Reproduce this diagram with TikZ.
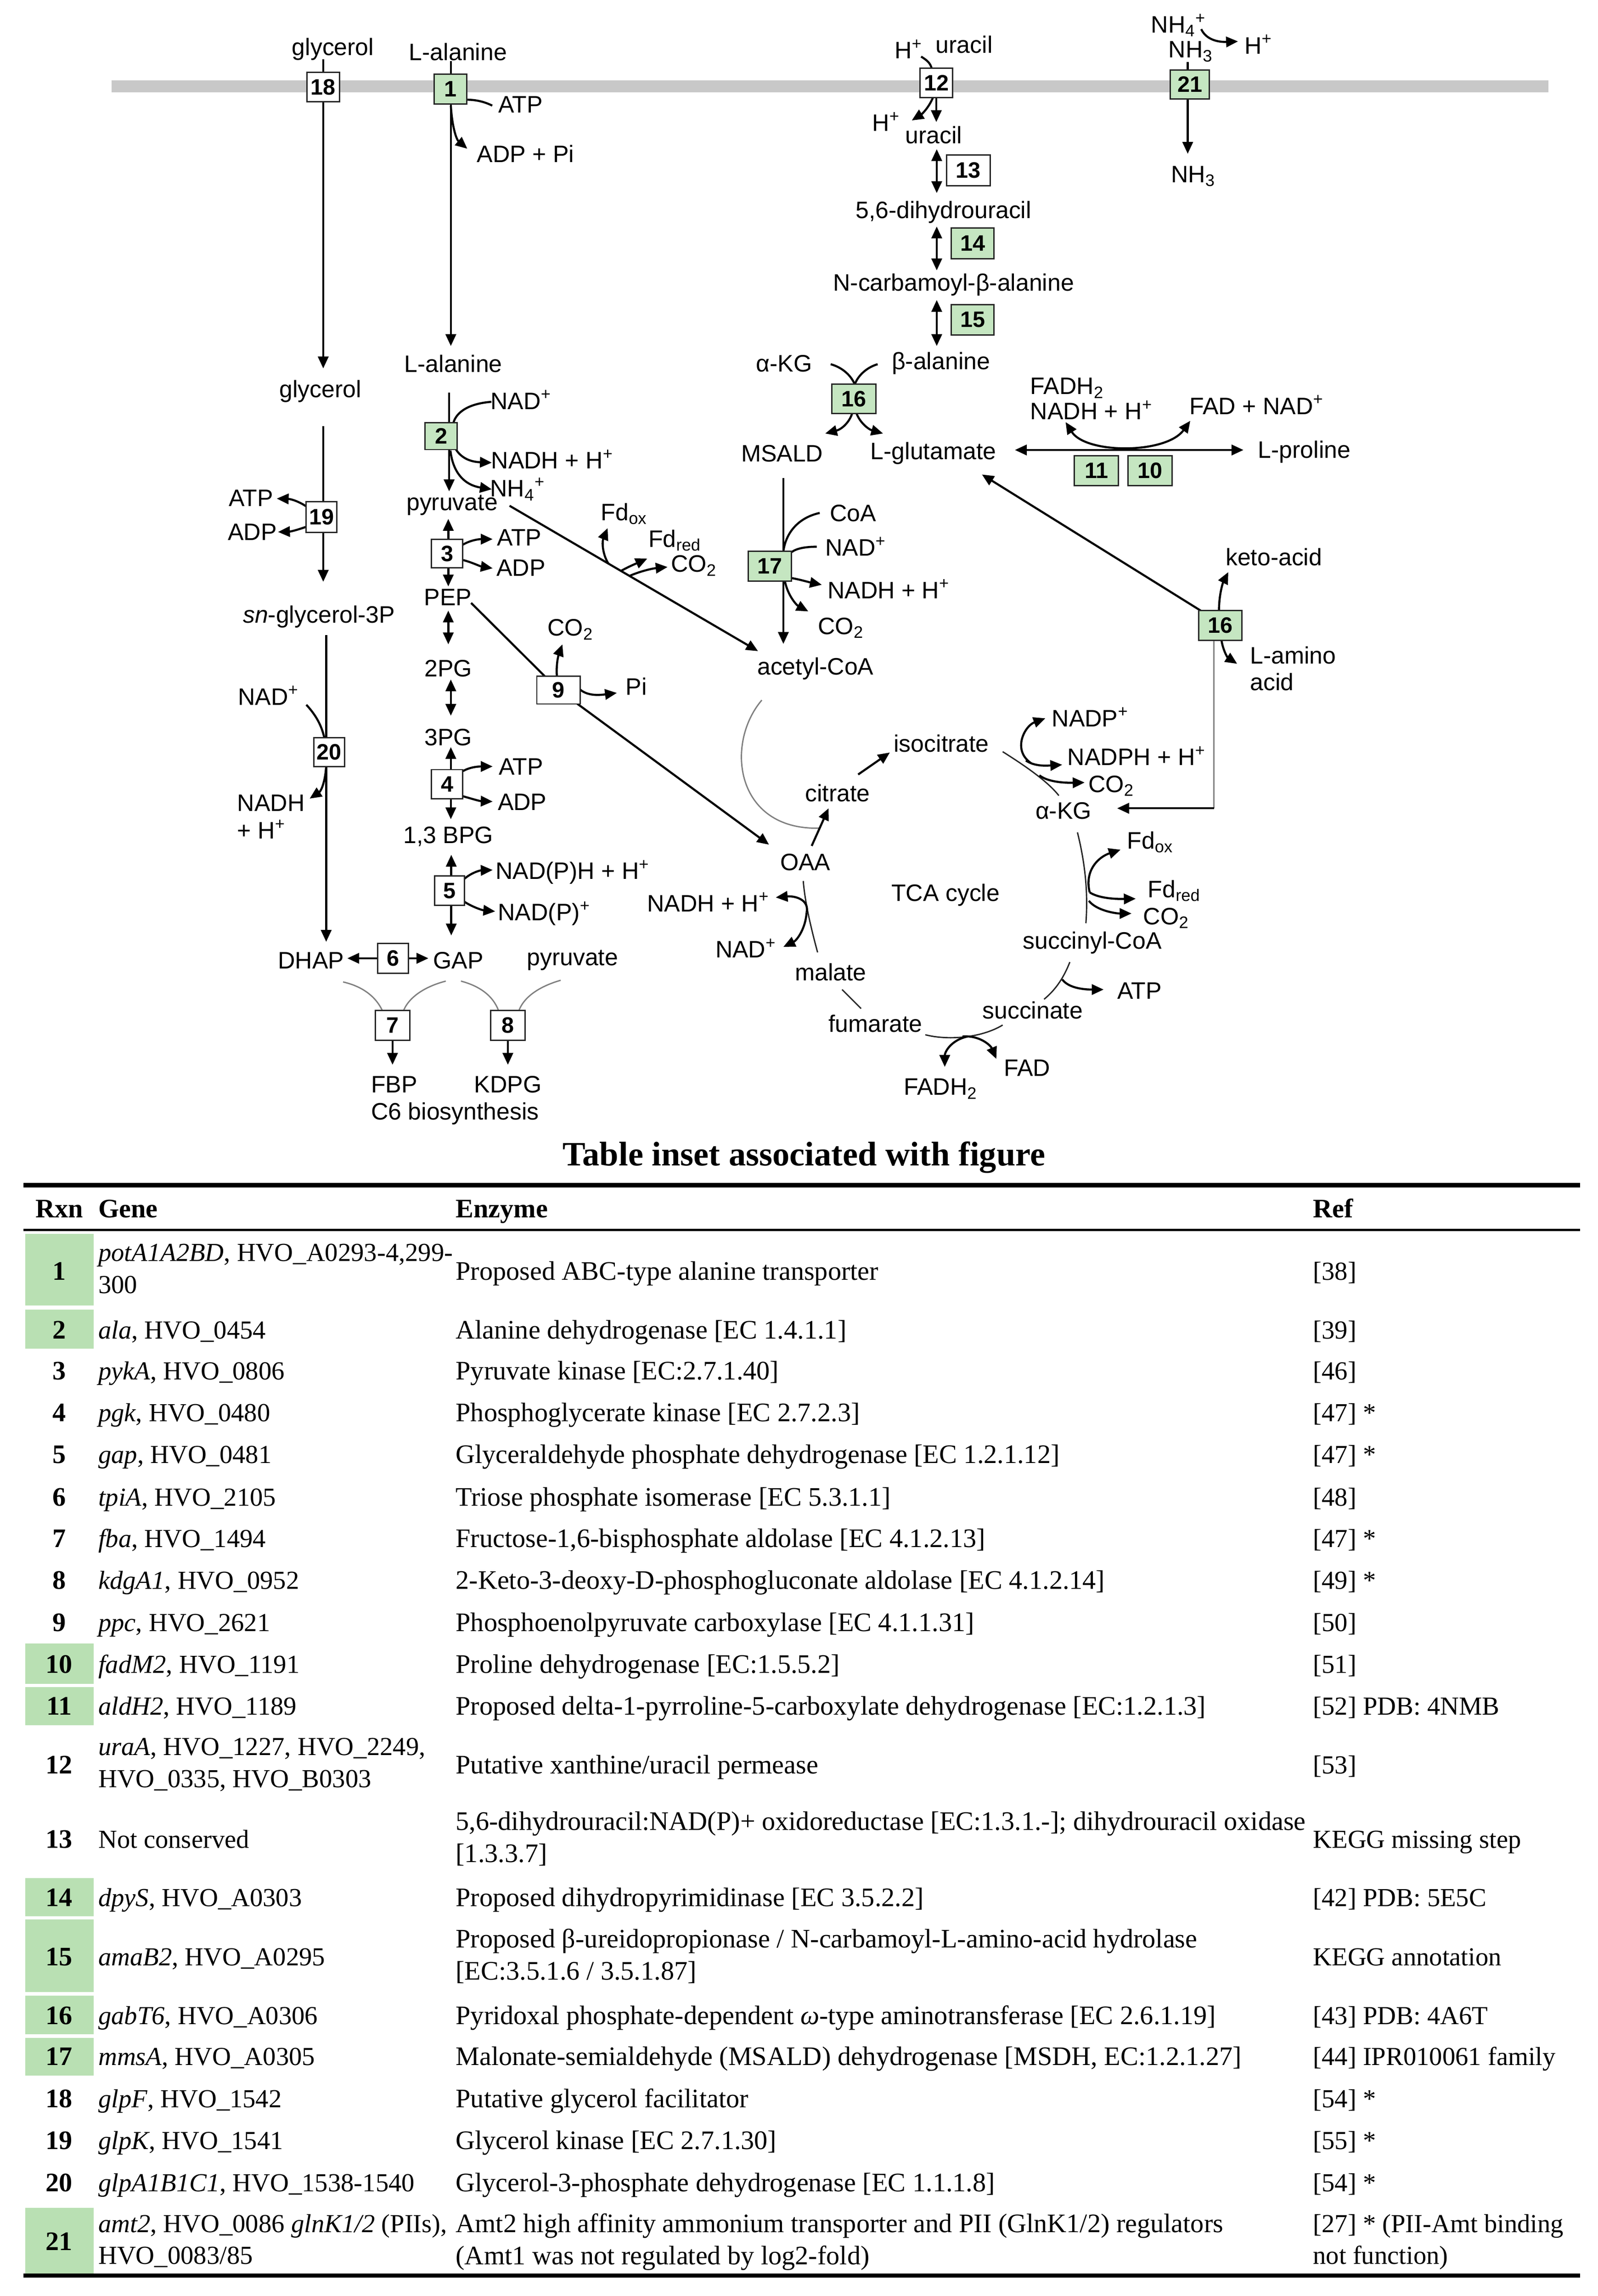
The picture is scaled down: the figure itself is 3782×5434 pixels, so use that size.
\documentclass[tikz,border=0pt]{standalone}
\usepackage{fontspec}
\setmainfont{Liberation Serif}
\newfontfamily\dsans{Liberation Sans}
\usetikzlibrary{arrows.meta,calc}
\definecolor{dgreen}{RGB}{197,230,193}
\definecolor{tgreen}{RGB}{185,224,179}
\definecolor{memb}{RGB}{200,200,200}
\newcommand{\sub}[1]{\textsubscript{#1}}
\newcommand{\sps}[1]{\textsuperscript{#1}}
\newcommand{\trow}[5]{%
  \node[tbn] (n#2) at (140,#1+6) {#2};
  \node[tb, font=\fontsize{17.5}{21.6}\selectfont] (g#2) at (232,#1+6) {#3};
  \node[tb] (e#2) at (1078,#1+6) {#4};
  \node[tb, font=\fontsize{17.5}{21.6}\selectfont] (r#2) at (3107,#1+6) {#5};}
\tikzset{
  lbl/.style={font=\dsans\fontsize{16}{19}\selectfont, inner sep=0pt},
  rxb/.style={draw=black!85, line width=0.9pt, fill=white, inner sep=0pt, font=\dsans\bfseries\fontsize{15}{15}\selectfont},
  rxg/.style={rxb, fill=dgreen},
  ln/.style={line width=1.4pt},
  ar/.style={ln, -{Triangle[length=8pt,width=7pt]}},
  arb/.style={ln, {Triangle[length=8pt,width=7pt]}-{Triangle[length=8pt,width=7pt]}},
  cyc/.style={line width=0.9pt, black!85},
  garc/.style={line width=0.9pt, gray},
  tb/.style={font=\fontsize{18}{21.6}\selectfont, inner sep=0pt, anchor=west, align=left,
    execute at begin node=\strut, execute at end node=\strut},
  tbn/.style={font=\bfseries\fontsize{18}{21.6}\selectfont, inner sep=0pt, execute at begin node=\strut},
  tbh/.style={font=\bfseries\fontsize{18}{21.6}\selectfont, inner sep=0pt, anchor=west, execute at begin node=\strut},
}
\begin{document}
\begin{tikzpicture}[x=0.01cm, y=-0.01cm]
\useasboundingbox (0,0) rectangle (3782,5434);
% membrane
\fill[memb] (264,190) rectangle (3665,218);

% ---------- labels ----------
\node[lbl] (glyT) at (788,116) {glycerol};
\node[lbl] (alaT) at (1084,123) {L-alanine};
\node[lbl] (atp1) at (1232,248) {ATP};
\node[lbl] (adp1) at (1244,364) {ADP + Pi};
\node[lbl] (ala2) at (1073,861) {L-alanine};
\node[lbl] (gly2) at (758,926) {glycerol};
\node[lbl] (nad2) at (1233,946) {NAD\sps{+}};
\node[lbl] (nadh2) at (1307,1087) {NADH + H\sps{+}};
\node[lbl] (nh4) at (1225,1158) {NH\sub{4}\sps{+}};
\node[lbl] (pyr) at (1070,1196) {pyruvate};
\node[lbl] (atp19) at (594,1179) {ATP};
\node[lbl] (adp19) at (597,1259) {ADP};
\node[lbl] (atp3) at (1229,1272) {ATP};
\node[lbl] (adp3) at (1233,1344) {ADP};
\node[lbl] (fdox1) at (1477,1216) {Fd\sub{ox}};
\node[lbl] (fdred1) at (1597,1279) {Fd\sub{red}};
\node[lbl] (co2a) at (1642,1339) {CO\sub{2}};
\node[lbl] (pep) at (1060,1414) {PEP};
\node[lbl] (sng) at (755,1460) {\textit{sn}-glycerol-3P};
\node[lbl] (co29) at (1350,1490) {CO\sub{2}};
\node[lbl] (pi9) at (1506,1625) {Pi};
\node[lbl] (pg2) at (1061,1582) {2PG};
\node[lbl] (acoa) at (1930,1583) {acetyl-CoA};
\node[lbl] (nad20) at (635,1646) {NAD\sps{+}};
\node[lbl] (pg3) at (1061,1745) {3PG};
\node[lbl] (atp4) at (1233,1815) {ATP};
\node[lbl] (adp4) at (1236,1898) {ADP};
\node[lbl, anchor=west, align=left, font=\dsans\fontsize{16}{18.5}\selectfont] (nadh20) at (561,1933) {NADH\\+ H\sps{+}};
\node[lbl] (bpg) at (1061,1980) {1,3 BPG};
\node[lbl] (nadph5) at (1355,2064) {NAD(P)H + H\sps{+}};
\node[lbl] (nadp5) at (1288,2162) {NAD(P)\sps{+}};
\node[lbl] (dhap) at (736,2273) {DHAP};
\node[lbl] (gap) at (1085,2273) {GAP};
\node[lbl] (pyr2) at (1355,2273) {pyruvate};
\node[lbl] (fbp) at (933,2567) {FBP};
\node[lbl] (kdpg) at (1202,2567) {KDPG};
\node[lbl] (c6) at (1077,2636) {C6 biosynthesis};
\node[lbl] (coa17) at (2019,1215) {CoA};
\node[lbl] (nad17) at (2025,1293) {NAD\sps{+}};
\node[lbl] (nadh17) at (2103,1394) {NADH + H\sps{+}};
\node[lbl] (co217) at (1990,1486) {CO\sub{2}};
\node[lbl] (akg1) at (1856,860) {α-KG};
\node[lbl] (bala) at (2227,860) {β-alanine};
\node[lbl] (msald) at (1851,1073) {MSALD};
\node[lbl] (lglu) at (2209,1073) {L-glutamate};
\node[lbl] (hp12) at (2150,116) {H\sps{+}};
\node[lbl] (ura1) at (2282,105) {uracil};
\node[lbl] (hp12b) at (2097,288) {H\sps{+}};
\node[lbl] (ura2) at (2210,319) {uracil};
\node[lbl] (dhu) at (2233,502) {5,6-dihydrouracil};
\node[lbl] (ncb) at (2257,674) {N-carbamoyl-β-alanine};
\node[lbl] (nh4t) at (2789,60) {NH\sub{4}\sps{+}};
\node[lbl] (nh3t) at (2818,122) {NH\sub{3}};
\node[lbl] (hp21) at (2978,105) {H\sps{+}};
\node[lbl] (nh3b) at (2824,417) {NH\sub{3}};
\node[lbl, anchor=west, align=left, font=\dsans\fontsize{16}{17}\selectfont] (fadh2p) at (2438,944) {FADH\sub{2}\\NADH + H\sps{+}};
\node[lbl] (fadnad) at (2974,958) {FAD + NAD\sps{+}};
\node[lbl] (lpro) at (3087,1070) {L-proline};
\node[lbl] (keto) at (3015,1318) {keto-acid};
\node[lbl, anchor=west, align=left, font=\dsans\fontsize{16}{18}\selectfont] (lamino) at (2958,1582) {L-amino\\acid};
\node[lbl] (isocit) at (2228,1760) {isocitrate};
\node[lbl] (citr) at (1982,1877) {citrate};
\node[lbl] (oaa) at (1906,2041) {OAA};
\node[lbl] (nadp) at (2580,1697) {NADP\sps{+}};
\node[lbl] (nadph) at (2690,1789) {NADPH + H\sps{+}};
\node[lbl] (co2ic) at (2630,1860) {CO\sub{2}};
\node[lbl] (akg2) at (2517,1919) {α-KG};
\node[lbl] (fdox2) at (2722,1993) {Fd\sub{ox}};
\node[lbl] (fdred2) at (2779,2108) {Fd\sub{red}};
\node[lbl] (co2sc) at (2760,2173) {CO\sub{2}};
\node[lbl] (tca) at (2238,2118) {TCA cycle};
\node[lbl] (succoa) at (2585,2231) {succinyl-CoA};
\node[lbl] (atpsc) at (2697,2345) {ATP};
\node[lbl] (succ) at (2444,2391) {succinate};
\node[lbl] (fum) at (2072,2422) {fumarate};
\node[lbl] (fad) at (2431,2527) {FAD};
\node[lbl] (fadh2) at (2226,2577) {FADH\sub{2}};
\node[lbl] (mal) at (1966,2301) {malate};
\node[lbl] (nadhm) at (1676,2135) {NADH + H\sps{+}};
\node[lbl] (nadm) at (1765,2244) {NAD\sps{+}};

% ---------- connectors ----------
% glycerol uptake
\draw[ln] (765,140) -- (765,175);
\draw[ar] (765,240) -- (765,872);
\draw[ln] (765,1009) -- (765,1190);
\draw[ar] (765,1255) -- (765,1377);
\draw[ar] (727,1200) .. controls (710,1188) and (690,1181) .. (655,1180);
\draw[ar] (727,1246) .. controls (710,1252) and (690,1258) .. (658,1259);
\draw[ar] (772,1503) -- (772,2229);
\draw[ln] (725,1668) .. controls (750,1695) and (762,1720) .. (768,1748);
\draw[ar] (772,1812) .. controls (770,1850) and (760,1872) .. (733,1890);
% alanine uptake
\draw[ln] (1067,145) -- (1067,178);
\draw[ar] (1067,245) -- (1067,819);
\draw[ln] (1104,236) .. controls (1125,236) and (1145,240) .. (1165,250);
\draw[ar] (1067,250) .. controls (1070,300) and (1080,330) .. (1106,352);
% reaction 2
\draw[ln] (1063,929) -- (1063,1001);
\draw[ar] (1063,1063) -- (1063,1163);
\draw[ln] (1163,951) .. controls (1110,955) and (1080,975) .. (1073,1001);
\draw[ar] (1078,1062) .. controls (1090,1082) and (1110,1093) .. (1164,1095);
\draw[ar] (1066,1066) .. controls (1072,1120) and (1100,1148) .. (1164,1158);
% glycolysis / gluconeogenesis chain
\draw[arb] (1061,1228) -- (1061,1388);
\draw[ar] (1094,1290) .. controls (1110,1280) and (1130,1276) .. (1166,1276);
\draw[ar] (1094,1325) .. controls (1115,1330) and (1135,1340) .. (1166,1345);
\draw[arb] (1061,1445) -- (1061,1525);
\draw[arb] (1067,1608) -- (1067,1694);
\draw[arb] (1067,1768) -- (1067,1939);
\draw[ar] (1094,1826) .. controls (1110,1816) and (1130,1814) .. (1166,1814);
\draw[ar] (1094,1884) .. controls (1115,1890) and (1135,1896) .. (1166,1897);
\draw[arb] (1068,2023) -- (1068,2214);
\draw[ar] (1099,2080) .. controls (1115,2066) and (1135,2060) .. (1166,2059);
\draw[ar] (1099,2134) .. controls (1115,2145) and (1140,2154) .. (1172,2157);
\draw[arb] (822,2268) -- (1014,2268);
\draw[garc] (812,2324) .. controls (860,2335) and (890,2360) .. (905,2392);
\draw[garc] (1055,2322) .. controls (1005,2335) and (968,2360) .. (955,2392);
\draw[garc] (1091,2322) .. controls (1140,2335) and (1168,2360) .. (1180,2392);
\draw[garc] (1327,2320) .. controls (1275,2335) and (1240,2360) .. (1228,2392);
\draw[ar] (929,2462) -- (929,2520);
\draw[ar] (1202,2462) -- (1202,2520);
% pyruvate -> acetyl-CoA
\draw[ar] (1206,1197) -- (1794,1541);
\draw[ar] (1440,1334) .. controls (1425,1310) and (1425,1282) .. (1438,1250);
\draw[ar] (1470,1351) .. controls (1490,1340) and (1505,1334) .. (1532,1322);
\draw[ar] (1490,1363) .. controls (1520,1350) and (1548,1345) .. (1580,1342);
% PEP -> OAA
\draw[ar] (1115,1427) -- (1322,1633) -- (1820,1999);
\draw[ar] (1318,1600) .. controls (1316,1570) and (1322,1550) .. (1331,1525);
\draw[ar] (1373,1632) .. controls (1392,1648) and (1420,1645) .. (1460,1640);
% MSALD -> acetyl-CoA
\draw[ar] (1854,1131) -- (1854,1524);
\draw[ln] (1940,1214) .. controls (1890,1225) and (1860,1260) .. (1854,1305);
\draw[ln] (1933,1294) .. controls (1905,1294) and (1885,1298) .. (1873,1307);
\draw[ar] (1873,1368) .. controls (1895,1372) and (1915,1378) .. (1945,1384);
\draw[ar] (1858,1377) .. controls (1865,1410) and (1885,1432) .. (1913,1447);
% reaction 16 (beta-alanine)
\draw[ln] (1966,862) .. controls (1995,870) and (2015,890) .. (2023,910);
\draw[ln] (2077,862) .. controls (2050,870) and (2030,890) .. (2023,910);
\draw[ar] (2017,978) .. controls (2010,1000) and (1992,1016) .. (1953,1026);
\draw[ar] (2027,978) .. controls (2035,1000) and (2055,1016) .. (2090,1026);
% uracil
\draw[ln] (2180,134) .. controls (2195,143) and (2202,150) .. (2205,162);
\draw[ar] (2208,231) .. controls (2198,255) and (2182,270) .. (2158,285);
\draw[ar] (2216,231) -- (2216,289);
\draw[arb] (2217,353) -- (2217,457);
\draw[arb] (2217,536) -- (2217,640);
\draw[arb] (2217,710) -- (2217,819);
% ammonium
\draw[ln] (2811,147) -- (2811,166);
\draw[ar] (2811,234) -- (2811,364);
\draw[ar] (2843,69) .. controls (2855,95) and (2885,100) .. (2930,98);
% proline
\draw[arb] (2402,1065) -- (2943,1065);
\draw[arb] (2522,999) .. controls (2570,1075) and (2760,1075) .. (2817,996);
% reaction 16 (right)
\draw[ar] (2843,1446) -- (2324,1123);
\draw[ar] (2885,1445) .. controls (2885,1410) and (2893,1382) .. (2907,1354);
\draw[ar] (2891,1516) .. controls (2895,1540) and (2905,1556) .. (2928,1571);
\draw[line width=0.9pt, gray] (2873,1516) -- (2873,1913);
\draw[ar] (2873,1913) -- (2644,1913);
% TCA cycle
\draw[garc] (1803,1657) .. controls (1715,1760) and (1740,1965) .. (1939,1960);
\draw[ar] (1921,2002) -- (1961,1913);
\draw[ar] (2031,1833) -- (2106,1781);
\draw[cyc] (2373,1779) .. controls (2430,1815) and (2480,1850) .. (2506,1883);
\draw[ar] (2440,1806) .. controls (2395,1775) and (2425,1718) .. (2474,1700);
\draw[ar] (2428,1800) .. controls (2450,1815) and (2480,1812) .. (2514,1810);
\draw[ar] (2460,1835) .. controls (2480,1851) and (2520,1853) .. (2567,1852);
\draw[cyc] (2550,1970) .. controls (2570,2050) and (2575,2120) .. (2570,2185);
\draw[ar] (2579,2112) .. controls (2566,2060) and (2600,2028) .. (2652,2011);
\draw[ar] (2579,2112) .. controls (2600,2126) and (2640,2128) .. (2688,2127);
\draw[ar] (2577,2132) .. controls (2595,2155) and (2640,2162) .. (2678,2162);
\draw[cyc] (2532,2277) .. controls (2515,2320) and (2495,2345) .. (2471,2365);
\draw[ar] (2514,2318) .. controls (2530,2340) and (2570,2342) .. (2612,2342);
\draw[cyc] (2373,2426) .. controls (2320,2458) and (2240,2462) .. (2190,2449);
\draw[ar] (2290,2453) .. controls (2250,2462) and (2236,2490) .. (2236,2525);
\draw[ar] (2278,2453) .. controls (2320,2450) and (2345,2475) .. (2358,2506);
\draw[cyc] (2038,2387) -- (1993,2342);
\draw[cyc] (1935,2254) .. controls (1915,2180) and (1905,2130) .. (1901,2085);
\draw[ar] (1909,2160) .. controls (1916,2128) and (1880,2120) .. (1836,2124);
\draw[ar] (1909,2160) .. controls (1906,2200) and (1885,2226) .. (1854,2241);

% ---------- reaction boxes ----------
\node[rxb, minimum width=0.77cm, minimum height=0.70cm] (b18) at (765,206) {18};
\node[rxg, minimum width=0.77cm, minimum height=0.70cm] (b1) at (1066,211) {1};
\node[rxg, minimum width=0.76cm, minimum height=0.64cm] (b2) at (1044,1032) {2};
\node[rxb, minimum width=0.73cm, minimum height=0.73cm] (b19) at (761,1224) {19};
\node[rxb, minimum width=0.73cm, minimum height=0.67cm] (b3) at (1058,1310) {3};
\node[rxb, minimum width=0.73cm, minimum height=0.69cm] (b4) at (1058,1856) {4};
\node[rxb, minimum width=0.71cm, minimum height=0.69cm] (b5) at (1064,2108) {5};
\node[rxb, minimum width=0.73cm, minimum height=0.69cm] (b20) at (779,1780) {20};
\node[rxb, minimum width=0.73cm, minimum height=0.71cm] (b6) at (930,2268) {6};
\node[rxb, minimum width=0.81cm, minimum height=0.71cm] (b7) at (929,2427) {7};
\node[rxb, minimum width=0.81cm, minimum height=0.71cm] (b8) at (1202,2427) {8};
\node[rxb, minimum width=1.03cm, minimum height=0.66cm] (b9) at (1322,1633) {9};
\node[rxg, minimum width=1.03cm, minimum height=0.70cm] (b17) at (1822,1340) {17};
\node[rxg, minimum width=1.04cm, minimum height=0.69cm] (b16a) at (2021,944) {16};
\node[rxb, minimum width=0.78cm, minimum height=0.69cm] (b12) at (2216,196) {12};
\node[rxb, minimum width=1.04cm, minimum height=0.73cm] (b13) at (2292,403) {13};
\node[rxg, minimum width=1.01cm, minimum height=0.72cm] (b14) at (2302,576) {14};
\node[rxg, minimum width=1.01cm, minimum height=0.72cm] (b15) at (2302,757) {15};
\node[rxg, minimum width=0.92cm, minimum height=0.69cm] (b21) at (2816,200) {21};
\node[rxg, minimum width=1.04cm, minimum height=0.70cm] (b11) at (2595,1114) {11};
\node[rxg, minimum width=1.04cm, minimum height=0.70cm] (b10) at (2722,1114) {10};
\node[rxg, minimum width=1.02cm, minimum height=0.71cm] (b16b) at (2888,1480) {16};

% ---------- table ----------
\node[font=\bfseries\fontsize{23}{27}\selectfont, inner sep=0pt] (ttl) at (1903,2739) {Table inset associated with figure};
\fill (55,2800) rectangle (3740,2810);
\fill (55,2908) rectangle (3740,2914);
\fill (55,5381) rectangle (3740,5391);
\node[tbh] (hrxn) at (83,2866) {Rxn};
\node[tbh] (hgene) at (232,2866) {Gene};
\node[tbh] (henz) at (1078,2866) {Enzyme};
\node[tbh] (href) at (3107,2866) {Ref};
% green cells
\fill[tgreen] (60,2920) rectangle (222,3090);
\fill[tgreen] (60,3100) rectangle (222,3192);
\fill[tgreen] (60,3890) rectangle (222,3985);
\fill[tgreen] (60,3993) rectangle (222,4083);
\fill[tgreen] (60,4445) rectangle (222,4535);
\fill[tgreen] (60,4543) rectangle (222,4715);
\fill[tgreen] (60,4723) rectangle (222,4815);
\fill[tgreen] (60,4823) rectangle (222,4912);
\fill[tgreen] (60,5225) rectangle (222,5381);
\trow{3008}{1}{\textit{potA1A2BD}, HVO\_A0293-4,299-\\300}{Proposed ABC-type alanine transporter}{[38]}
\trow{3147}{2}{\textit{ala}, HVO\_0454}{Alanine dehydrogenase [EC 1.4.1.1]}{[39]}
\trow{3244}{3}{\textit{pykA}, HVO\_0806}{Pyruvate kinase [EC:2.7.1.40]}{[46]}
\trow{3343}{4}{\textit{pgk}, HVO\_0480}{Phosphoglycerate kinase [EC 2.7.2.3]}{[47] *}
\trow{3442}{5}{\textit{gap}, HVO\_0481}{Glyceraldehyde phosphate dehydrogenase [EC 1.2.1.12]}{[47] *}
\trow{3543}{6}{\textit{tpiA}, HVO\_2105}{Triose phosphate isomerase [EC 5.3.1.1]}{[48]}
\trow{3641}{7}{\textit{fba}, HVO\_1494}{Fructose-1,6-bisphosphate aldolase [EC 4.1.2.13]}{[47] *}
\trow{3740}{8}{\textit{kdgA1}, HVO\_0952}{2-Keto-3-deoxy-D-phosphogluconate aldolase [EC 4.1.2.14]}{[49] *}
\trow{3840}{9}{\textit{ppc}, HVO\_2621}{Phosphoenolpyruvate carboxylase [EC 4.1.1.31]}{[50]}
\trow{3938}{10}{\textit{fadM2}, HVO\_1191}{Proline dehydrogenase [EC:1.5.5.2]}{[51]}
\trow{4037}{11}{\textit{aldH2}, HVO\_1189}{Proposed delta-1-pyrroline-5-carboxylate dehydrogenase [EC:1.2.1.3]}{[52] PDB: 4NMB}
\trow{4177}{12}{\textit{uraA}, HVO\_1227, HVO\_2249,\\HVO\_0335, HVO\_B0303}{Putative xanthine/uracil permease}{[53]}
\trow{4353}{13}{Not conserved}{5,6-dihydrouracil:NAD(P)+ oxidoreductase [EC:1.3.1.-]; dihydrouracil oxidase\\{}[1.3.3.7]}{KEGG missing step}
\trow{4491}{14}{\textit{dpyS}, HVO\_A0303}{Proposed dihydropyrimidinase [EC 3.5.2.2]}{[42] PDB: 5E5C}
\trow{4631}{15}{\textit{amaB2}, HVO\_A0295}{Proposed β-ureidopropionase / N-carbamoyl-L-amino-acid hydrolase\\{}[EC:3.5.1.6 / 3.5.1.87]}{KEGG annotation}
\trow{4770}{16}{\textit{gabT6}, HVO\_A0306}{Pyridoxal phosphate-dependent \textit{ω}-type aminotransferase [EC 2.6.1.19]}{[43] PDB: 4A6T}
\trow{4867}{17}{\textit{mmsA}, HVO\_A0305}{Malonate-semialdehyde (MSALD) dehydrogenase [MSDH, EC:1.2.1.27]}{[44] IPR010061 family}
\trow{4967}{18}{\textit{glpF}, HVO\_1542}{Putative glycerol facilitator}{[54] *}
\trow{5065}{19}{\textit{glpK}, HVO\_1541}{Glycerol kinase [EC 2.7.1.30]}{[55] *}
\trow{5165}{20}{\textit{glpA1B1C1}, HVO\_1538-1540}{Glycerol-3-phosphate dehydrogenase [EC 1.1.1.8]}{[54] *}
\trow{5305}{21}{\textit{amt2}, HVO\_0086 \textit{glnK1/2} (PIIs),\\HVO\_0083/85}{Amt2 high affinity ammonium transporter and PII (GlnK1/2) regulators\\(Amt1 was not regulated by log2-fold)}{[27] * (PII-Amt binding\\not function)}
\end{tikzpicture}
\end{document}
